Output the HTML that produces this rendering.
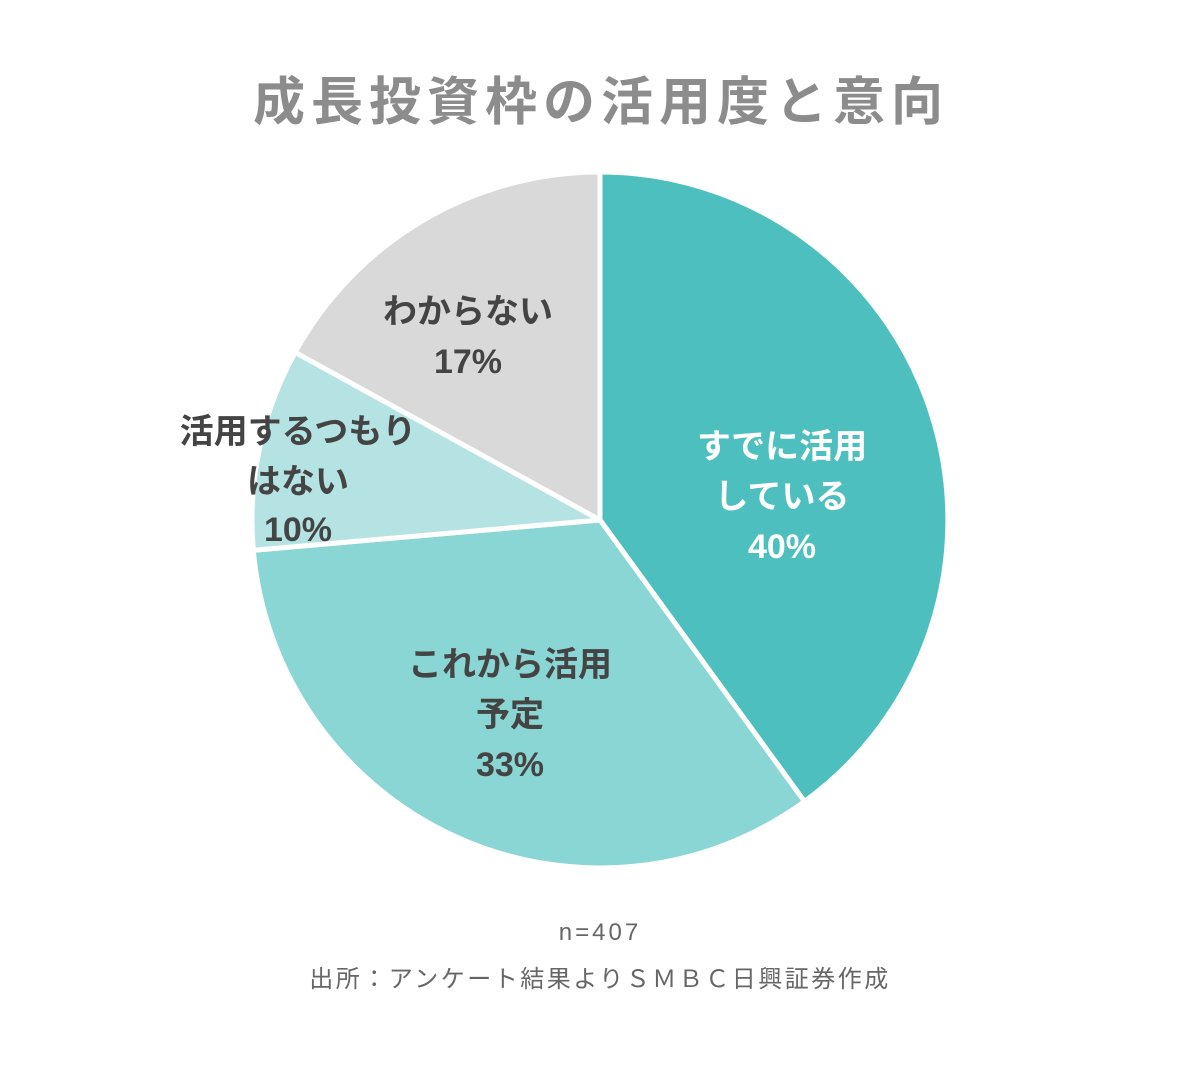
<!DOCTYPE html>
<html><head><meta charset="utf-8"><style>
body{margin:0;background:#fff;}
svg text{font-family:"Liberation Sans","Noto Sans CJK JP",sans-serif;}
</style></head><body>
<svg width="1200" height="1060" viewBox="0 0 1200 1060" xmlns="http://www.w3.org/2000/svg">
<rect width="1200" height="1060" fill="#fff"/>
<text x="601" y="120" text-anchor="middle" font-size="52" font-weight="bold" fill="#8c8c8c" letter-spacing="6">成長投資枠の活用度と意向</text>
<g stroke="#fff" stroke-width="5" stroke-linejoin="round">
<path d="M600,520 L600,172 A348,348 0 0 1 804.5,801.5 Z" fill="#4DBFBF"/>
<path d="M600,520 L804.5,801.5 A348,348 0 0 1 253.3,550.3 Z" fill="#8AD6D4"/>
<path d="M600,520 L253.3,550.3 A348,348 0 0 1 295.1,352.3 Z" fill="#B5E3E3"/>
<path d="M600,520 L295.1,352.3 A348,348 0 0 1 600,172 Z" fill="#D9D9D9"/>
</g>
<g font-size="34" font-weight="bold" text-anchor="middle">
<text x="782" y="458" fill="#fff">すでに活用</text>
<text x="782" y="508" fill="#fff">している</text>
<text x="782" y="558" fill="#fff">40%</text>
<text x="510" y="676" fill="#444">これから活用</text>
<text x="510" y="726" fill="#444">予定</text>
<text x="510" y="776" fill="#444">33%</text>
<text x="298" y="443" fill="#444">活用するつもり</text>
<text x="298" y="493" fill="#444">はない</text>
<text x="298" y="541" fill="#444">10%</text>
<text x="468" y="323" fill="#444">わからない</text>
<text x="468" y="373" fill="#444">17%</text>
</g>
<text x="600" y="940" text-anchor="middle" font-size="24" fill="#666" letter-spacing="3">n=407</text>
<text x="600" y="987" text-anchor="middle" font-size="24" fill="#666" letter-spacing="2.5">出所：アンケート結果よりＳＭＢＣ日興証券作成</text>
</svg>
</body></html>
